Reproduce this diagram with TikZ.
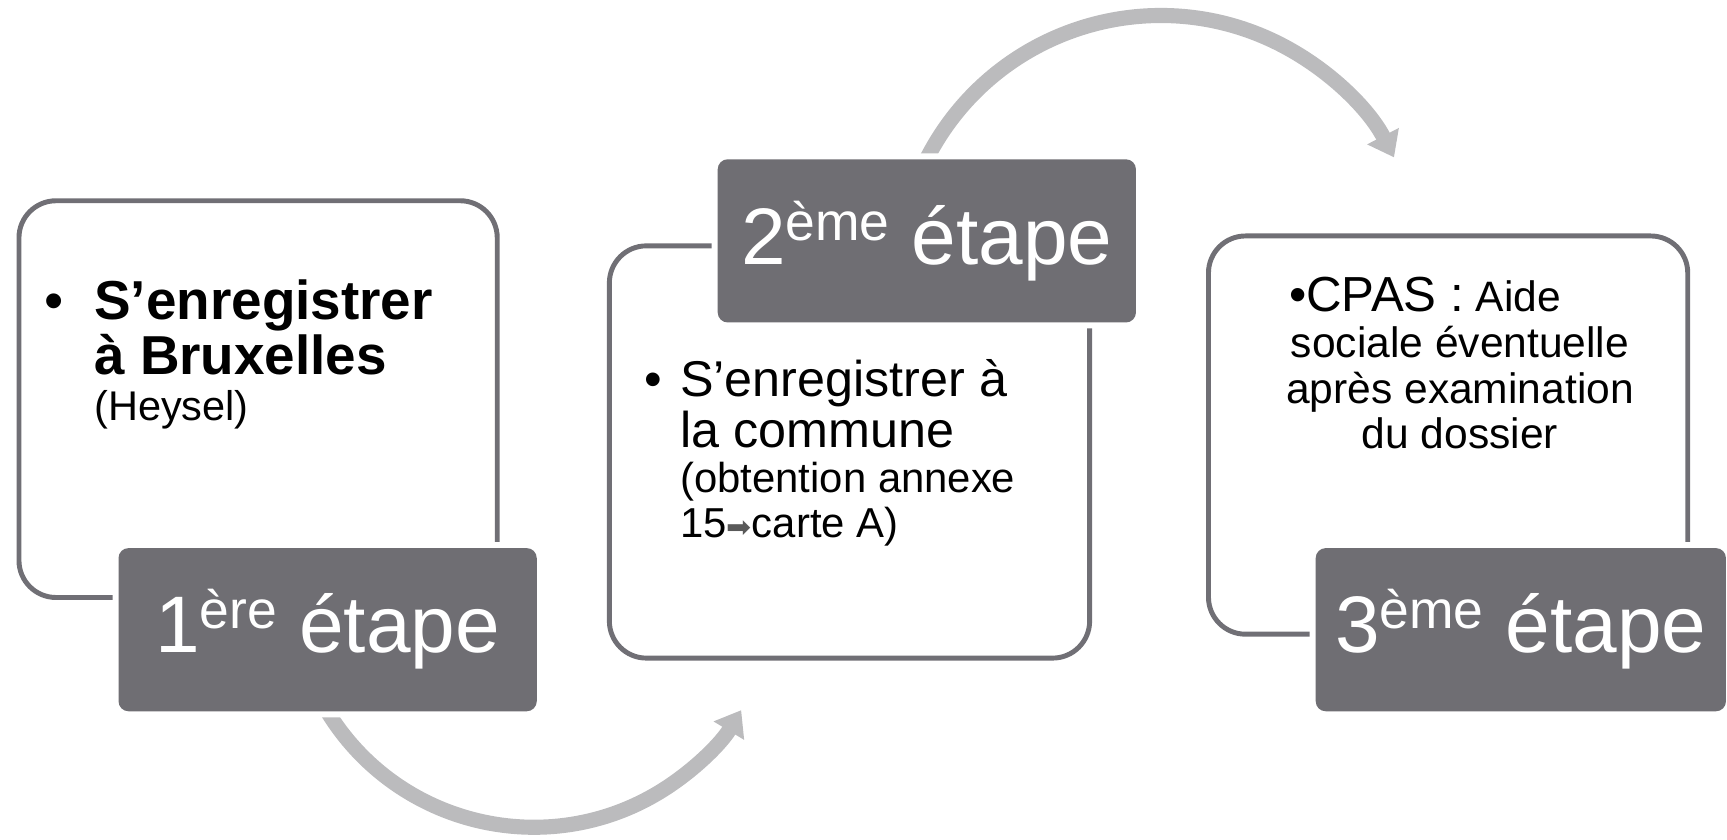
\documentclass[tikz,border=0pt]{standalone}
\usepackage{fontspec}
\setmainfont{Liberation Sans}
\newfontfamily\arrowfont{DejaVu Sans}
\usetikzlibrary{arrows.meta, positioning, backgrounds}

\definecolor{stagegray}{RGB}{111,110,115}
\definecolor{cardgray}{RGB}{112,111,117}
\definecolor{loopgray}{RGB}{187,187,189}

\newcommand{\ordsup}[1]{\raisebox{0.3em}{\fontsize{15.2}{16}\selectfont #1}}

\begin{document}
\begin{tikzpicture}[
        x=0.01cm, y=-0.01cm,
        card/.style={draw=cardgray, line width=1.4pt, rounded corners=0.37cm, fill=white, inner sep=0pt, anchor=north west},
        stage/.style={fill=stagegray, rounded corners=0.1cm, preaction={draw=white, line width=3.4pt}, text=white, inner sep=0pt, minimum width=4.18cm, text height=29.8pt, text depth=16.6pt, font=\fontsize{22.8}{27}\selectfont, anchor=north west},
        bodytext/.style={inner sep=0pt, anchor=base west, align=flush left},
        looparrow/.style={draw=loopgray, line width=4.3pt, -{Triangle[length=6.8pt, width=9.7pt]}}
    ]
        \useasboundingbox (0,0) rectangle (1727,840);

        \node[card, minimum width=4.78cm, minimum height=3.965cm] (box1) at (16.5,198.3) {};
        \node[card, minimum width=4.80cm, minimum height=4.12cm] (box2) at (606.9,243.4) {};
        \node[card, minimum width=4.79cm, minimum height=3.98cm] (box3) at (1206,233.5) {};

        \node[stage] (lab1) at (117.8,547.4) {1\ordsup{ère} étape};
        \node[stage] (lab2) at (717,158.6) {2\ordsup{ème} étape};
        \node[stage, minimum width=4.1cm] (lab3) at (1315,547.4) {3\ordsup{ème} étape};

        \begin{scope}[on background layer]
            \draw[looparrow] (lab1.south) arc[start angle=211.6, end angle=328.9, radius=2.42cm];
            \draw[looparrow] (lab2.north) arc[start angle=152.9, end angle=27.4, radius=2.626cm];
        \end{scope}

        \node[bodytext, text width=3.8cm, font=\bfseries\fontsize{15.6}{15.7}\selectfont] (txt1) at (93.6,319.4)
            {\llap{\mdseries\textbullet\hspace{8.6pt}}S’enregistrer\\à Bruxelles\par{\mdseries\fontsize{11.8}{13.1}\selectfont (Heysel)\par}};
        \node[bodytext, text width=3.9cm, font=\fontsize{14.3}{14.4}\selectfont] (txt2) at (679.6,396.5)
            {\llap{\textbullet\hspace{5.1pt}}S’enregistrer à\\la commune\par{\fontsize{11.9}{12.9}\selectfont (obtention annexe\\15{\arrowfont\color{black!65}\fontsize{8.5}{9}\selectfont ➡}carte A)\par}};
        \node[inner sep=0pt, anchor=base, text width=3.6cm, align=flush center, font=\fontsize{12.1}{13}\selectfont] (txt3) at (1460,311.7)
            {{\fontsize{14}{13}\selectfont •CPAS :} Aide\hspace*{19.9pt}\mbox{}\\sociale éventuelle\\après examination\\du dossier};
    \end{tikzpicture}
\end{document}
